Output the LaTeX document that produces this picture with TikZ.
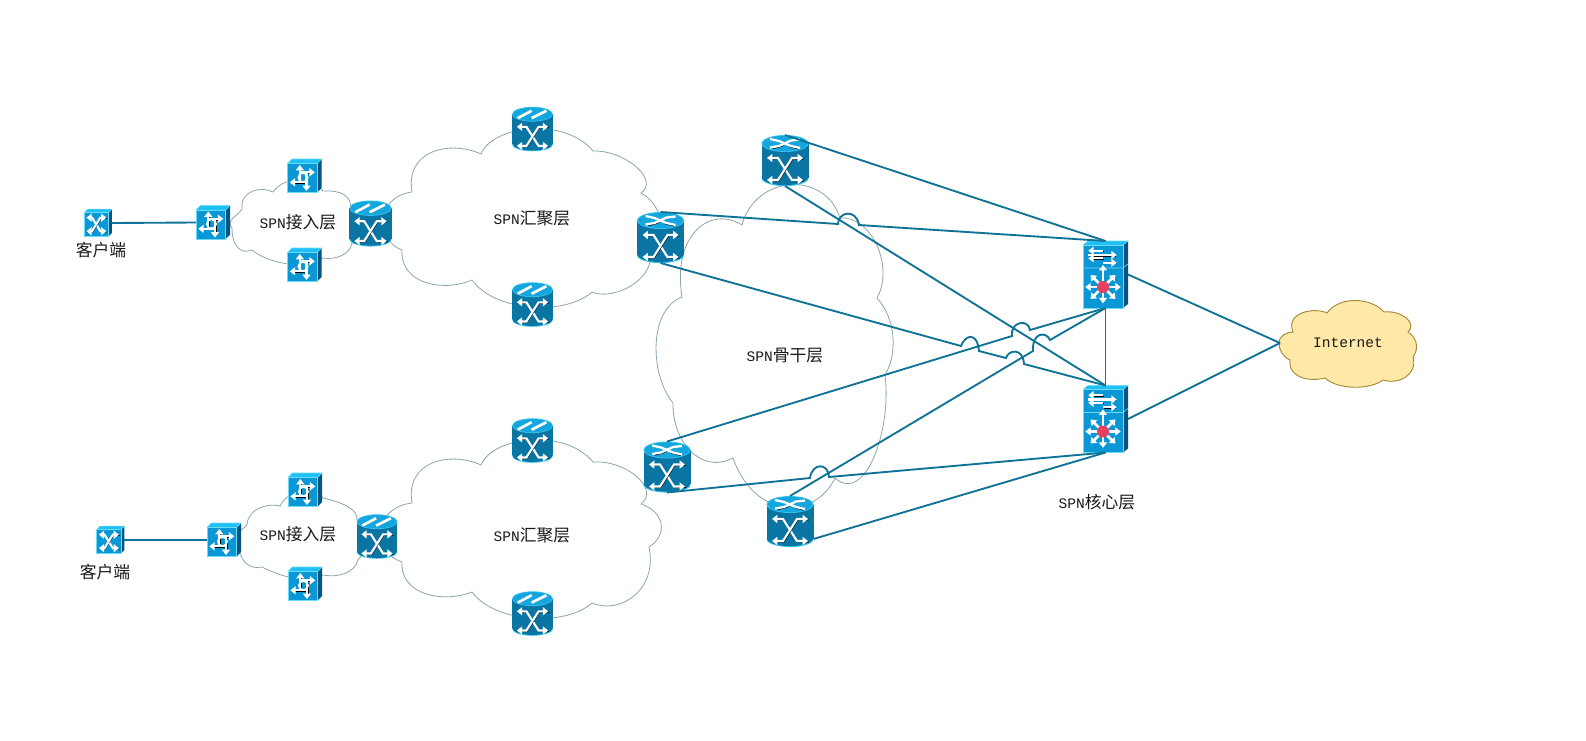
\documentclass[tikz,border=0pt]{standalone}
\usepackage{fontspec}
\setmainfont{Liberation Mono}
\newfontfamily\cjkf{Noto Sans CJK SC}
\usetikzlibrary{arrows.meta,calc}
\definecolor{wire}{HTML}{0F7396}
\definecolor{cloudline}{HTML}{8AA6AC}
\definecolor{cylbody}{HTML}{0A74A2}
\definecolor{cyltop}{HTML}{16A6DE}
\definecolor{cylrim}{HTML}{34C4F2}
\definecolor{cubeface}{HTML}{0A97D6}
\definecolor{cubetop}{HTML}{1FC0F4}
\definecolor{cubeside}{HTML}{05557F}
\definecolor{cubeedge}{HTML}{6ADCF8}
\definecolor{hub}{HTML}{E8415F}
\definecolor{inetfill}{HTML}{FFE8A8}
\definecolor{inetline}{HTML}{A58836}
\newcommand{\lbltext}[2]{{\fontsize{10.9}{13}\selectfont #1}{\cjkf\fontsize{12.6}{14}\selectfont #2}}
\newcommand{\dblarrow}[1]{%
  \draw[black,line width=.6pt,shift={(.9,.9)}] #1;
  \draw[wht] #1;}
\tikzset{
  wht/.style={draw=white,line width=1.6pt,line join=miter,{Triangle[width=6pt,length=4pt]}-{Triangle[width=6pt,length=4pt]}},
  whtend/.style={draw=white,line width=1.6pt,line join=miter,-{Triangle[width=6pt,length=4pt]}},
  wirel/.style={draw=wire,line width=1.4pt,line join=miter},
  cloudl/.style={draw=cloudline,line width=.6pt,fill=white},
  lbl/.style={inner sep=0pt,text=black!90},
  devbox/.style={inner sep=0pt,outer sep=0pt,draw=none},
  pics/cylbase/.style={code={
    \fill[cylrim] (0,17.6) ellipse [x radius=23.5,y radius=8];
    \fill[cylbody] (-23.5,-17) rectangle (23.5,17);
    \fill[cylbody] (0,16.8) ellipse [x radius=23,y radius=7.8];
    \fill[cylrim] (0,-17) ellipse [x radius=23.5,y radius=8.5];
    \fill[cyltop] (0,-17) ellipse [x radius=22.5,y radius=7.6];
    \dblarrow{(-18,-2.5) -- (-7,-2.5) -- (7,19.5) -- (18,19.5)}
    \dblarrow{(-18,19.5) -- (-7,19.5) -- (7,-2.5) -- (18,-2.5)}
  }},
  pics/cylx/.style={code={
    \pic[transform shape] {cylbase};
    \draw[black,line width=.8pt] (-12,-12) -- (-4,-14) -- (4,-19) ;
    \draw[black,line width=.8pt] (4,-14) -- (14,-11.5);
    \draw[white,line width=1.7pt] (-15,-21.5) -- (-6,-19.5) -- (6,-14.5) -- (15,-12.5);
    \draw[white,line width=1.7pt] (-15,-13) -- (-6,-14.5) -- (6,-20) -- (15,-21);
  }},
  pics/cylslash/.style={code={
    \pic[transform shape] {cylbase};
    \draw[white,line width=2pt] (-17,-12.5) -- (-1,-21);
    \draw[white,line width=2pt] (-1,-12.5) -- (16,-21);
  }},
  pics/cubebase/.style={code={
    \fill[cubeside] (12.7,-12.5) -- (17,-17) -- (17,12) -- (12.7,16.5) -- cycle;
    \fill[cubetop] (-17,-12.5) -- (-12.7,-17) -- (17,-17) -- (12.7,-12.5) -- cycle;
    \fill[cubeface] (-17,-12.5) rectangle (12.7,16.5);
    \draw[cubeedge,line width=.5pt] (-17,16.5) -- (-17,-12.5) -- (12.7,-12.5) -- (12.7,16.5) -- cycle;
    \draw[cubeedge,line width=.4pt] (-17,-12.5) -- (-12.7,-17) -- (17,-17) -- (12.7,-12.5);
  }},
  pics/cuberouter/.style={code={
    \pic[transform shape] {cubebase};
    \begin{scope}[shift={(-2,2)}]
      \draw[black,line width=.6pt] (-1.7,5.5) -- (-1.7,-10) (-3,-4.6) -- (10,-4.6) (5,-3) -- (5,11) (5,5.3) -- (-10,5.3);
      \draw[whtend] (-2.7,5) -- (-2.7,-13);
      \draw[whtend] (-4,-5.7) -- (12.3,-5.7);
      \draw[whtend] (4,-5) -- (4,13);
      \draw[whtend] (4.5,4.3) -- (-12.7,4.3);
      \draw[white,line width=1.3pt] (.5,-.5) circle [radius=4.6];
    \end{scope}
  }},
  pics/cubex/.style={code={
    \pic[transform shape] {cubebase};
    \begin{scope}[shift={(-2.2,2)}]
      \dblarrow{(-12,-8.5) -- (-5,-8.5) -- (5,8) -- (12.5,8)}
      \dblarrow{(-12,8) -- (-5,8) -- (5,-8.5) -- (12.5,-8.5)}
    \end{scope}
  }},
  pics/corestack/.style={code={
    \fill[cubeside] (17.5,-29.5) -- (22.5,-33.5) -- (22.5,29.5) -- (17.5,33.5) -- cycle;
    \fill[cubetop] (-22.5,-29.5) -- (-17.5,-33.5) -- (22.5,-33.5) -- (17.5,-29.5) -- cycle;
    \fill[cubeface] (-22.5,-29.5) rectangle (17.5,33.5);
    \draw[cubeedge,line width=.5pt] (-22.5,33.5) -- (-22.5,-29.5) -- (17.5,-29.5) -- (17.5,33.5) -- cycle;
    \draw[cubeedge,line width=.5pt] (-22.5,-6.5) -- (17.5,-6.5) -- (22.5,-10.5);
    \draw[cubeedge,line width=.4pt] (-22.5,-29.5) -- (-17.5,-33.5) -- (22.5,-33.5) -- (17.5,-29.5);
    \draw[black,line width=.5pt] (-16,-22.8) -- (-2,-22.8) (-16,-18.5) -- (10.5,-18.5) (-16,-15.2) -- (-2,-15.2) (-2,-10.8) -- (10.5,-10.8);
    \draw[whtend] (-2.2,-23.8) -- (-17.2,-23.8);
    \draw[whtend] (-17.2,-19.5) -- (11.2,-19.5);
    \draw[whtend] (-2.2,-16.2) -- (-17.2,-16.2);
    \draw[whtend] (-3,-11.8) -- (11.2,-11.8);
    \begin{scope}[shift={(-2.5,12.5)}]
      \foreach \tx/\ty in {0/-22,0/16.3,-17.7/0,17.7/0,-12.5/-12,12.5/-12,-12.5/12,12.5/12}{
        \draw[whtend,line width=2pt] (0,0) -- (\tx,\ty);
      }
      \fill[hub] (0,0) circle [radius=6];
    \end{scope}
  }},
}
\newcommand{\cylnode}[5]{% name x y scale pic
  \pic[scale=#4] at (#2,#3) {#5};
  \node[devbox,minimum width=#4*35.25pt,minimum height=#4*38.25pt] (#1) at (#2,#3) {};}
\newcommand{\cubenode}[5]{% name x y scale pic
  \pic[scale=#4] at (#2,#3) {#5};
  \node[devbox,minimum width=#4*25.5pt,minimum height=#4*25.5pt] (#1) at (#2,#3) {};}
\newcommand{\corenode}[3]{%
  \pic at (#2,#3) {corestack};
  \node[devbox,minimum width=33.75pt,minimum height=50.25pt] (#1) at (#2,#3) {};}
\begin{document}
\begin{tikzpicture}[x=.75pt,y=-.75pt]
\useasboundingbox (0,0) rectangle (1586,740);
\fill[white] (0,0) rectangle (1586,740);
% clouds
\draw[cloudl] (682,297) .. controls (672,235) and (710,205) .. (742,225)
  .. controls (755,175) and (825,170) .. (840,218)
  .. controls (870,215) and (895,265) .. (877,298)
  .. controls (897,320) and (897,355) .. (885,375)
  .. controls (892,430) and (865,505) .. (835,478)
  .. controls (815,520) and (755,520) .. (733,458)
  .. controls (700,475) and (672,440) .. (673,403)
  .. controls (650,375) and (648,310) .. (682,297) -- cycle;
\draw[cloudl] (481,154) .. controls (493,125) and (565,117) .. (593,151)
  .. controls (625,150) and (660,180) .. (641,193)
  .. controls (665,205) and (672,250) .. (650,262)
  .. controls (645,285) and (610,300) .. (592,292)
  .. controls (565,316) and (495,312) .. (472,280)
  .. controls (445,292) and (400,285) .. (402,250)
  .. controls (375,240) and (375,197) .. (412,192)
  .. controls (405,150) and (450,140) .. (481,154) -- cycle;
\draw[cloudl] (481,465) .. controls (493,436) and (565,428) .. (593,462)
  .. controls (628,460) and (660,490) .. (641,504)
  .. controls (665,512) and (668,535) .. (649,547)
  .. controls (658,590) and (620,615) .. (592,603)
  .. controls (565,627) and (495,623) .. (472,592)
  .. controls (445,603) and (400,596) .. (402,562)
  .. controls (372,552) and (372,508) .. (412,503)
  .. controls (405,461) and (450,451) .. (481,465) -- cycle;
\draw[cloudl] (242,209) .. controls (240,190) and (262,186) .. (273,192)
  .. controls (285,175) and (312,178) .. (323,191)
  .. controls (340,190) and (352,195) .. (351,210)
  .. controls (362,220) and (362,235) .. (352,243)
  .. controls (350,255) and (335,260) .. (323,258)
  .. controls (310,270) and (270,265) .. (252,250)
  .. controls (240,255) and (232,245) .. (232,228)
  .. controls (225,220) and (238,216) .. (242,209) -- cycle;
\draw[cloudl] (247,525) .. controls (248,508) and (268,503) .. (280,506)
  .. controls (288,490) and (312,485) .. (323,498)
  .. controls (345,503) and (358,510) .. (357,520)
  .. controls (368,530) and (368,550) .. (358,560)
  .. controls (355,572) and (340,578) .. (323,575)
  .. controls (310,585) and (282,577) .. (262,567)
  .. controls (248,570) and (240,560) .. (238,545)
  .. controls (232,535) and (242,530) .. (247,525) -- cycle;
\draw[draw=inetline,line width=.7pt,fill=inetfill] (1279,343)
  .. controls (1279,335) and (1288,332) .. (1293,332)
  .. controls (1285,312) and (1315,307) .. (1327,313)
  .. controls (1340,295) and (1372,298) .. (1384,312)
  .. controls (1400,310) and (1418,322) .. (1408,332)
  .. controls (1420,340) and (1417,352) .. (1413,357)
  .. controls (1418,375) and (1398,385) .. (1383,380)
  .. controls (1370,390) and (1338,390) .. (1325,378)
  .. controls (1310,382) and (1288,378) .. (1290,360)
  .. controls (1283,357) and (1279,350) .. (1279,343) -- cycle;
% devices
\cubenode{clientA}{98}{223}{.82}{cubex}
\cubenode{clientB}{110.5}{540}{.82}{cubex}
\cubenode{accA}{213}{222.5}{1}{cuberouter}
\cubenode{accAtop}{304.5}{176}{1}{cuberouter}
\cubenode{accAbot}{304.5}{265}{1}{cuberouter}
\cubenode{accB}{224}{540}{1}{cuberouter}
\cubenode{accBtop}{305}{490}{1}{cuberouter}
\cubenode{accBbot}{305}{584}{1}{cuberouter}
\cylnode{edgeA}{370.5}{223.5}{.9}{cylslash}
\cylnode{edgeB}{377}{536.5}{.87}{cylslash}
\cylnode{aggAtop}{532.5}{129}{.87}{cylslash}
\cylnode{aggAbot}{532.5}{304.5}{.87}{cylslash}
\cylnode{aggBtop}{532.5}{440.5}{.87}{cylslash}
\cylnode{aggBbot}{532.5}{613.5}{.87}{cylslash}
\cylnode{bigA}{660.5}{237.5}{1}{cylx}
\cylnode{bigB}{785}{160.5}{1}{cylx}
\cylnode{bigC}{667}{467}{1}{cylx}
\cylnode{bigD}{790}{521.5}{1}{cylx}
\corenode{coreA}{1105.5}{274.5}
\corenode{coreB}{1105.5}{419}
% labels
\node[lbl] (lblClientA) at (101,250) {\lbltext{}{客户端}};
\node[lbl] (lblClientB) at (105,572) {\lbltext{}{客户端}};
\node[lbl] (lblAccA) at (298,222) {\lbltext{SPN}{接入层}};
\node[lbl] (lblAccB) at (298,534) {\lbltext{SPN}{接入层}};
\node[lbl] (lblAggA) at (532,218) {\lbltext{SPN}{汇聚层}};
\node[lbl] (lblAggB) at (532,535) {\lbltext{SPN}{汇聚层}};
\node[lbl] (lblBone) at (785,356) {\lbltext{SPN}{骨干层}};
\node[lbl] (lblCore) at (1097,502) {\lbltext{SPN}{核心层}};
\node[lbl] (inet) at (1348,343) {\lbltext{Internet}{}};
\coordinate (inetW) at (1280,343);
% hop points
\coordinate (hA1) at (838,224); \coordinate (hA2) at (859,225);
\coordinate (hB1) at (961,346); \coordinate (hB2) at (979,351);
\coordinate (hB3) at (1006,358); \coordinate (hB4) at (1024,364);
\coordinate (hC1) at (1012,336); \coordinate (hC2) at (1030,330);
\coordinate (hD1) at (1033,351); \coordinate (hD2) at (1050,340);
\coordinate (hE1) at (810,478); \coordinate (hE2) at (829,477);
% connectors
\draw[wirel] (clientA.east) -- (accA.west);
\draw[wirel] (clientB.east) -- (accB.west);
\draw[wirel] (bigA.north) -- (hA1) .. controls (838,212) and (856,208) .. (hA2) -- (coreA.north);
\draw[wirel] (bigB.north) -- (coreA.north);
\draw[wirel] (bigB.south) -- (coreB.north);
\draw[wirel] (bigA.south) -- (hB1) .. controls (965,335) and (977,331) .. (hB2) -- (hB3)
  .. controls (1008,350) and (1023,347) .. (hB4) -- (coreB.north);
\draw[wirel] (bigC.north) -- (hC1) .. controls (1010,322) and (1028,318) .. (hC2) -- (coreA.south);
\draw[wirel] (bigD.north) -- (hD1) .. controls (1032,332) and (1046,331) .. (hD2) -- (coreA.south);
\draw[wirel] (bigC.south) -- (hE1) .. controls (812,463) and (828,462) .. (hE2) -- (coreB.south);
\draw[wirel] ([yshift=-13.1pt]bigD.east) -- (coreB.south);
\draw[wirel] (coreA.south) -- (coreB.north);
\draw[wirel] (coreA.east) -- (inetW);
\draw[wirel] (coreB.east) -- (inetW);
\end{tikzpicture}
\end{document}
